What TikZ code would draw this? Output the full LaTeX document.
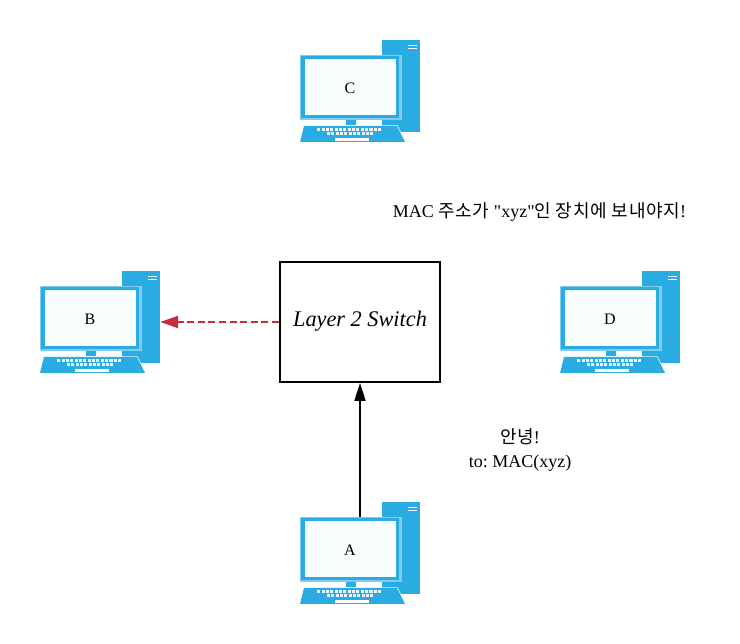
\documentclass[tikz,border=0pt]{standalone}
\usepackage{fontspec}
\setmainfont{Liberation Serif}
\newfontfamily\plainrm{Liberation Serif}
\newfontfamily\krfont[LetterSpace=4]{Noto Sans CJK KR}
\frenchspacing
\usetikzlibrary{arrows.meta}
\definecolor{pcblue}{HTML}{2AABE2}
\definecolor{pclight}{HTML}{7FCDEE}
\definecolor{pcscreen}{HTML}{F8FDFE}
\definecolor{redarrow}{HTML}{C72C3A}
\newcommand{\kr}[1]{{\krfont\fontsize{18}{24}\selectfont #1}}
\tikzset{
  x=1pt,y=-1pt,
  pcbox/.style={minimum width=120pt,minimum height=102pt,inner sep=0pt,draw=none},
  pclabel/.style={font=\fontsize{16}{18}\selectfont,text=black,inner sep=0pt},
  switchbox/.style={draw=black,line width=2pt,fill=white,minimum width=160pt,minimum height=120pt,inner sep=0pt},
  note/.style={font=\plainrm\fontsize{18}{24}\selectfont,align=center,inner sep=0pt,text=black},
  link/.style={line width=2pt,draw=black,-{Triangle[length=18pt,width=11pt]}},
  forward/.style={line width=2pt,draw=redarrow,dash pattern=on 7pt off 3.6pt,-{Triangle[length=18pt,width=12pt,fill=redarrow]}},
  pics/computer/.style={code={
    % tower
    \fill[pcblue] (82,0) rectangle (120,92);
    \fill[white] (108,5) rectangle (117,6);
    \fill[white] (108,8.2) rectangle (117,9.2);
    % monitor
    \fill[pclight] (0,15) rectangle (102,80);
    \fill[pcblue] (1,16) rectangle (99,78.3);
    \fill[pcscreen] (5,19) rectangle (96,75);
    % stand
    \fill[pcblue] (46,80.5) rectangle (56,85.5);
    % white edge of keyboard over the tower
    \fill[white] (3.5,85.5) -- (97.5,85.5) -- (106,102.5) -- (99,102.5) -- cycle;
    % keyboard
    \fill[pcblue] (4,86) -- (97,86) -- (105,102) -- (0,102) -- cycle;
    \foreach \k in {0,...,14} {\fill[white!90!pcblue] ({17.2+\k*4.35},88.3) rectangle ++(3.1,2.4);}
    \foreach \k in {0,...,10} {\fill[white!90!pcblue] ({26.8+\k*4.35},92.3) rectangle ++(3.1,2.4);}
    \fill[white] (35,98) rectangle (69,101);
  }}
}
\begin{document}
\begin{tikzpicture}
\useasboundingbox (0,0) rectangle (740,644);
\fill[white] (0,0) rectangle (740,644);
\pic at (300,40) {computer};
\pic at (40,271) {computer};
\pic at (560,271) {computer};
\pic at (300,502) {computer};
\node[pcbox] (C) at (360,91) {};
\node[pcbox] (B) at (100,322) {};
\node[pcbox] (D) at (620,322) {};
\node[pcbox] (A) at (360,553) {};
\node[pclabel] (labelC) at (350,88.5) {C};
\node[pclabel] (labelB) at (90,319.5) {B};
\node[pclabel] (labelD) at (610,319.5) {D};
\node[pclabel] (labelA) at (350,550.5) {A};
\coordinate (Atop) at (360,517);
\node[switchbox] (sw) at (360,322) {};
\node[font=\fontsize{22.3}{24}\selectfont\itshape,inner sep=0pt] (swlabel) at (360,321.5) {Layer 2 Switch};
\draw[link] (Atop) -- (sw.south);
\draw[forward] (sw.west) -- (B.east);
\node[note] (msg) at (539.5,212) {MAC \kr{주소가} "xyz"\kr{인 장치에 보내야지}!};
\node[note] (hello) at (520,450) {\kr{안녕}!\\to: MAC(xyz)};
\end{tikzpicture}
\end{document}
